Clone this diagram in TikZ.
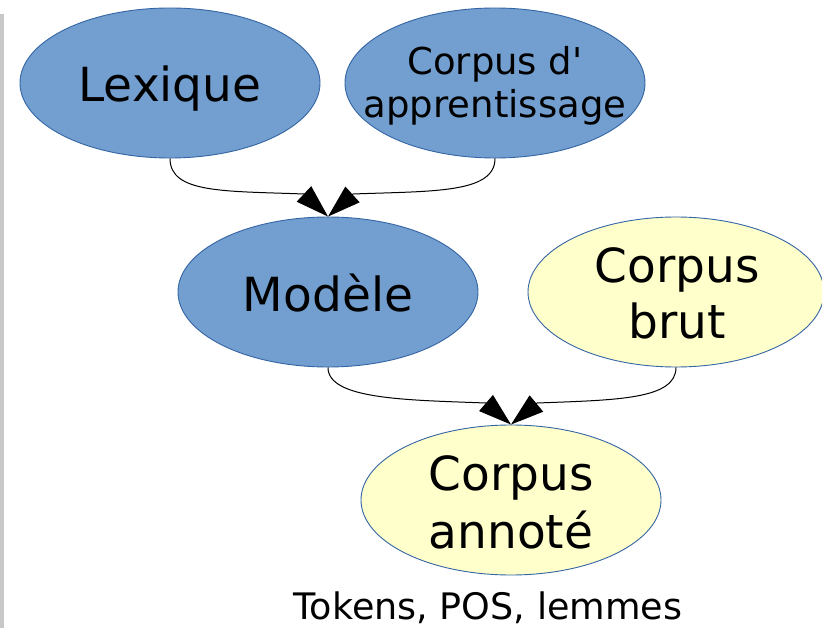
\documentclass[tikz,border=0pt]{standalone}
\usepackage{fontspec}
\setmainfont{DejaVu Sans}[Ligatures=TeXOff]
\usetikzlibrary{arrows.meta,shapes.geometric}
\definecolor{bluefill}{HTML}{729FCF}
\definecolor{blueline}{HTML}{3465A4}
\definecolor{yellowfill}{HTML}{FFFFCC}
\definecolor{stripgrey}{HTML}{C8C8C8}
\begin{document}
\begin{tikzpicture}[x=1pt,y=-1pt,
  ell/.style={ellipse, draw=blueline, line width=0.9pt, inner sep=0pt,
              minimum width=300pt, minimum height=150pt},
  bluenode/.style={ell, fill=bluefill},
  yelnode/.style={ell, fill=yellowfill},
  bigtxt/.style={anchor=base, inner sep=0pt, font=\fontsize{47}{55}\selectfont},
  midtxt/.style={anchor=base, inner sep=0pt, font=\fontsize{37}{43}\selectfont},
  toktxt/.style={anchor=base, inner sep=0pt, font=\fontsize{36.5}{43}\selectfont},
  conn/.style={draw=black, line width=1pt, -{Triangle[length=33pt,width=21pt]}}
]
\useasboundingbox (0,0) rectangle (822,628);
\fill[stripgrey] (0,14) rectangle (4,628);

% ellipses
\node[bluenode] (lex)  at (170,83)  {};
\node[bluenode] (apr)  at (495,83)  {};
\node[bluenode] (mod)  at (328,292) {};
\node[yelnode, minimum width=296pt] (brut) at (676,292) {};
\node[yelnode] (anno) at (511,500) {};

% texts
\node[bigtxt] (lexT)  at (170,102) {Lexique};
\node[midtxt] (aprT1) at (495,75)  {Corpus d'};
\node[midtxt] (aprT2) at (495,118) {apprentissage};
\node[bigtxt] (modT)  at (328,312) {Modèle};
\node[bigtxt] (brutT1) at (677,283) {Corpus};
\node[bigtxt] (brutT2) at (677,338) {brut};
\node[bigtxt] (annoT1) at (511,490) {Corpus};
\node[bigtxt] (annoT2) at (511,548) {annoté};
\node[toktxt] (tok) at (488,619) {Tokens, POS, lemmes};

% arrow bases
\coordinate (aL) at (304,194);
\coordinate (aR) at (353,194);
\coordinate (bL) at (486,403);
\coordinate (bR) at (537,403);

% connectors
\draw[conn] (lex.south) .. controls +(0,35) and +(-80,-3) .. (aL) -- (mod.north);
\draw[conn] (apr.south) .. controls +(0,35) and +(80,-3) .. (aR) -- (mod.north);
\draw[conn] (mod.south) .. controls +(0,32) and +(-80,-3) .. (bL) -- (anno.north);
\draw[conn] (brut.south) .. controls +(0,32) and +(80,-3) .. (bR) -- (anno.north);
\end{tikzpicture}
\end{document}
